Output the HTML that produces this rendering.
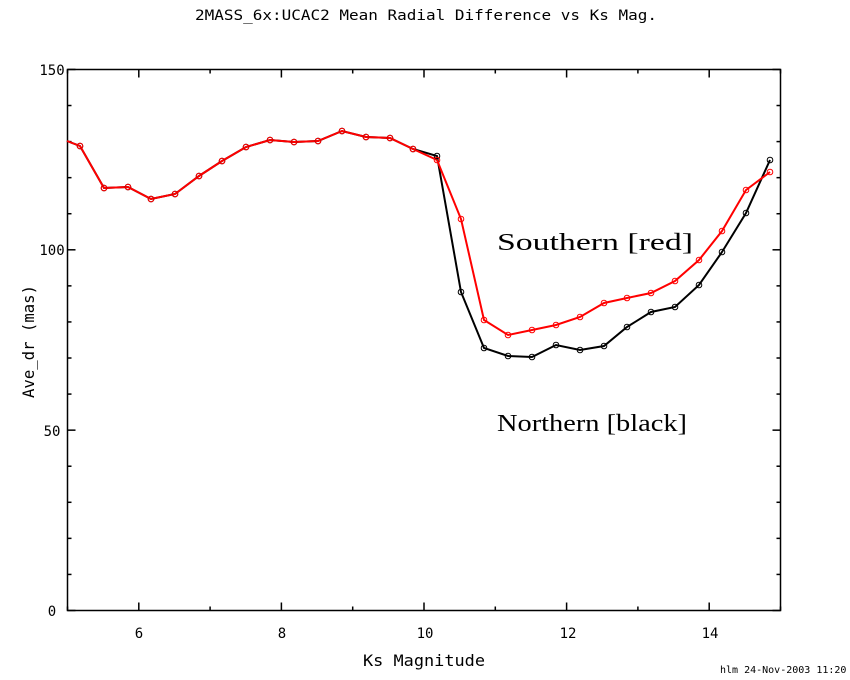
<!DOCTYPE html>
<html><head><style>
body{margin:0;background:#fff;}
svg{display:block;font-family:"DejaVu Sans Mono","Liberation Mono",monospace;}
</style></head><body>
<svg width="850" height="680" viewBox="0 0 850 680" xmlns="http://www.w3.org/2000/svg">
<rect width="850" height="680" fill="#fff"/>
<text x="195" y="20" font-size="14" textLength="462" lengthAdjust="spacingAndGlyphs">2MASS_6x:UCAC2 Mean Radial Difference vs Ks Mag.</text>
<rect x="67.5" y="69.5" width="713" height="541" fill="none" stroke="#000" stroke-width="1.5"/>
<g stroke="#000" stroke-width="1.5" id="ticks"></g>
<g font-size="14" text-anchor="middle">
<text x="139" y="638">6</text><text x="282" y="638">8</text><text x="425" y="638">10</text><text x="568" y="638">12</text><text x="710" y="638">14</text>
</g>
<g font-size="14" text-anchor="middle">
<text x="52" y="616">0</text><text x="52" y="436">50</text><text x="52" y="255">100</text><text x="52" y="75">150</text>
</g>
<text x="363" y="666" font-size="16" textLength="122" lengthAdjust="spacingAndGlyphs">Ks Magnitude</text>
<text transform="translate(34,398) rotate(-90)" font-size="16" textLength="113" lengthAdjust="spacingAndGlyphs">Ave_dr (mas)</text>
<text x="720" y="673" font-size="10">hlm 24-Nov-2003 11:20</text>
<text x="497" y="250" font-size="24" font-family="Liberation Serif,serif" textLength="196" lengthAdjust="spacingAndGlyphs">Southern [red]</text>
<text x="497" y="431" font-size="24" font-family="Liberation Serif,serif" textLength="190" lengthAdjust="spacingAndGlyphs">Northern [black]</text>
<polyline id="blk" fill="none" stroke="#000" stroke-width="2"/>
<polyline id="red" fill="none" stroke="#f00" stroke-width="2"/>
<g id="mk"></g>
</svg>
<script>
var ns="http://www.w3.org/2000/svg";
var t=document.getElementById("ticks");
function ln(x1,y1,x2,y2){var l=document.createElementNS(ns,"line");l.setAttribute("x1",x1);l.setAttribute("y1",y1);l.setAttribute("x2",x2);l.setAttribute("y2",y2);t.appendChild(l);}
for(var v=5;v<=15;v++){var x=67.5+(v-5)*71.3;var L=(v%2==0)?8:4;ln(x,610.5,x,610.5-L);ln(x,69.5,x,69.5+L);}
for(var v=0;v<=150;v+=10){var y=610.5-v*3.607;var L=(v%50==0)?8:4;ln(67.5,y,67.5+L,y);ln(780.5,y,780.5-L,y);}
var xs=[67,80,104,128,151,175,199,222,246,270,294,318,342,366,390,413,437,461,484,508,532,556,580,604,627,651,675,699,722,746,770];
var ry=[141,146,188,187,199,194,176,161,147,140,142,141,131,137,138,149,160,219,320,335,330,325,317,303,298,293,281,260,231,190,172];
var by=[141,146,188,187,199,194,176,161,147,140,142,141,131,137,138,149,156,292,348,356,357,345,350,346,327,312,307,285,252,213,160];
function pts(ys){return xs.map(function(x,i){return x+","+ys[i];}).join(" ");}
document.getElementById("blk").setAttribute("points",pts(by));
document.getElementById("red").setAttribute("points",pts(ry));
var mk=document.getElementById("mk");
function c(x,y,col){var e=document.createElementNS(ns,"circle");e.setAttribute("cx",x);e.setAttribute("cy",y);e.setAttribute("r",2.8);e.setAttribute("fill","none");e.setAttribute("stroke",col);e.setAttribute("stroke-width",1);mk.appendChild(e);}
for(var i=1;i<xs.length;i++){c(xs[i],by[i],"#000");}
for(var i=1;i<xs.length;i++){c(xs[i],ry[i],"#f00");}
</script>
</body></html>
